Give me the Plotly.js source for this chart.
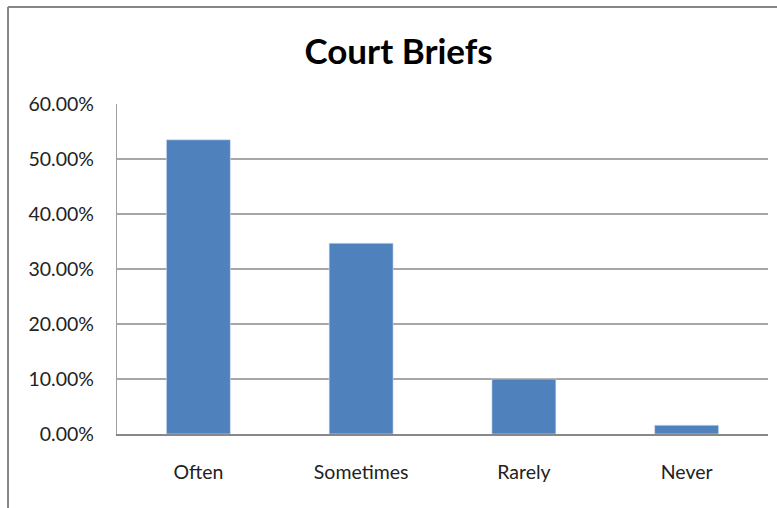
<!DOCTYPE html>
<html>
<head>
<meta charset="utf-8">
<script src="https://cdn.plot.ly/plotly-3.0.1.min.js"></script>
<style>
html,body{margin:0;padding:0;background:#fff;}
#chart{width:777px;height:508px;}
</style>
</head>
<body>
<div id="chart"></div>
<script>
var categories = ["Often", "Sometimes", "Rarely", "Never"];
var values = [0.535, 0.347, 0.100, 0.016];
var titleText = "Court Briefs";

var font = "Lato, 'Open Sans', 'Liberation Sans', sans-serif";

var trace = {
  type: "bar",
  x: categories,
  y: values,
  marker: {color: "#4F81BD", line: {color: "#DCE6F2", width: 0.6}},
  hoverinfo: "x+y"
};

var layout = {
  width: 777,
  height: 508,
  margin: {l: 117, r: 9, t: 104, b: 74},
  paper_bgcolor: "#ffffff",
  plot_bgcolor: "#ffffff",
  bargap: 0.607,
  showlegend: false,
  font: {family: font, size: 19.5, color: "#222"},
  title: {
    text: "<b>" + titleText + "</b>",
    font: {family: font, size: 35, color: "#000"},
    x: 0.513, xanchor: "center",
    y: 0.898, yanchor: "middle", yref: "container"
  },
  xaxis: {
    showgrid: false,
    showline: true,
    linecolor: "#888888",
    linewidth: 1.5,
    ticks: "outside",
    ticklen: 20,
    tickcolor: "rgba(0,0,0,0)",
    tickfont: {family: font, size: 19.5, color: "#222"},
    fixedrange: true
  },
  yaxis: {
    range: [0, 0.6],
    dtick: 0.1,
    tick0: 0,
    tickformat: ".2%",
    showgrid: true,
    gridcolor: "#a6a6a6",
    gridwidth: 1.2,
    zeroline: false,
    showline: true,
    linecolor: "#a0a0a0",
    linewidth: 1.2,
    ticks: "outside",
    ticklen: 18,
    tickcolor: "rgba(0,0,0,0)",
    tickfont: {family: font, size: 19.5, color: "#222"},
    fixedrange: true
  },
  shapes: [
    {type: "line", xref: "paper", yref: "paper",
     x0: -0.1674, x1: 1.02, y0: 1.294, y1: 1.294,
     line: {color: "#868686", width: 2}},
    {type: "line", xref: "paper", yref: "paper",
     x0: -0.1674, x1: -0.1674, y0: 1.294, y1: -0.3,
     line: {color: "#868686", width: 2}}
  ]
};

Plotly.newPlot("chart", [trace], layout, {displayModeBar: false, staticPlot: true});
</script>
</body>
</html>
